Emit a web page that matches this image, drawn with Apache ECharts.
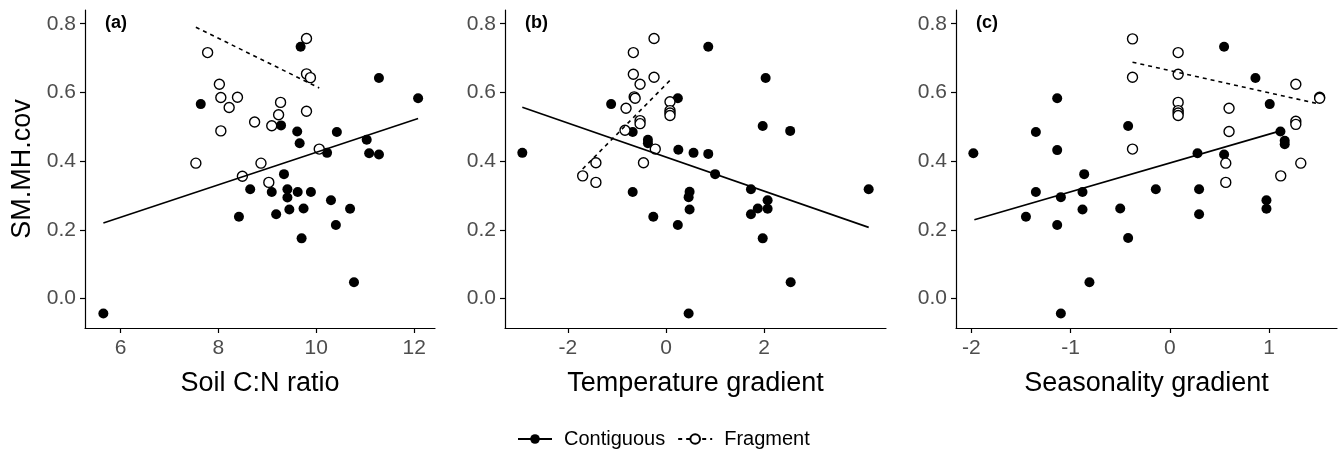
<!DOCTYPE html>
<html>
<head>
<meta charset="utf-8">
<script src="https://cdn.jsdelivr.net/npm/echarts@6/dist/echarts.min.js"></script>
<style>
html,body{margin:0;padding:0;background:#fff;}
#chart{width:1341px;height:456px;}
</style>
</head>
<body>
<div id="chart"></div>
<script>
// ---------- data ----------
const panelLabels = ['(a)', '(b)', '(c)'];
const xTitles = ['Soil C:N ratio', 'Temperature gradient', 'Seasonality gradient'];
const yTitle = 'SM.MH.cov';
const seriesNames = ['Contiguous', 'Fragment'];

const yTicks = [0.0, 0.2, 0.4, 0.6, 0.8];
const xTicksA = [6, 8, 10, 12];
const xTicksB = [-2, 0, 2];
const xTicksC = [-2, -1, 0, 1];

// Panel (a)
const aContX = [7.64, 9.68, 11.28, 12.08, 9.28, 9.61, 10.42, 9.66, 11.03, 10.22, 11.08, 11.28, 8.65, 8.42, 5.65, 9.34, 9.09, 9.41, 9.41, 9.62, 9.89, 10.30, 10.69, 9.18, 9.45, 9.74, 10.40, 9.70, 10.77];
const aContY = [0.566, 0.733, 0.642, 0.583, 0.504, 0.486, 0.485, 0.452, 0.462, 0.424, 0.423, 0.419, 0.318, 0.238, -0.044, 0.362, 0.310, 0.318, 0.294, 0.310, 0.310, 0.286, 0.261, 0.245, 0.259, 0.262, 0.214, 0.175, 0.047];
const aFragX = [7.78, 8.02, 8.05, 8.39, 8.22, 8.74, 8.05, 9.80, 9.80, 9.88, 9.27, 9.80, 9.23, 9.09, 10.06, 7.54, 8.49, 8.87, 9.03];
const aFragY = [0.716, 0.624, 0.585, 0.586, 0.556, 0.514, 0.488, 0.757, 0.654, 0.643, 0.571, 0.545, 0.535, 0.503, 0.435, 0.394, 0.356, 0.394, 0.338];
const aContLineX = [5.65, 12.08];
const aContLineY = [0.220, 0.524];
const aFragLineX = [7.54, 10.06];
const aFragLineY = [0.790, 0.613];

// Panel (b)
const bContX = [-1.12, 0.86, 2.03, 0.24, 1.97, 2.53, -0.68, -0.37, -0.37, 0.25, 0.56, -2.93, 0.86, -0.68, 0.48, 0.46, 0.48, -0.26, 0.24, 0.46, 1.00, 1.73, 2.07, 2.07, 1.87, 1.73, 1.97, 2.54, 4.13];
const bContY = [0.566, 0.733, 0.642, 0.583, 0.502, 0.488, 0.485, 0.462, 0.452, 0.433, 0.424, 0.424, 0.421, 0.310, 0.311, 0.295, 0.259, 0.238, 0.214, -0.044, 0.362, 0.318, 0.286, 0.261, 0.262, 0.245, 0.175, 0.047, 0.318];
const bFragX = [-0.245, -0.667, -0.667, -0.53, -0.245, -0.65, -0.63, -0.816, 0.08, 0.08, 0.08, 0.08, -0.53, -0.53, -0.837, -0.22, -1.43, -1.70, -1.43, -0.46];
const bFragY = [0.757, 0.716, 0.653, 0.624, 0.644, 0.587, 0.583, 0.554, 0.573, 0.547, 0.540, 0.533, 0.518, 0.509, 0.490, 0.435, 0.395, 0.357, 0.338, 0.395];
const bContLineX = [-2.93, 4.13];
const bContLineY = [0.557, 0.207];
const bFragLineX = [-1.70, 0.08];
const bFragLineY = [0.377, 0.635];

// Panel (c)
const cContX = [-1.135, -1.35, -0.42, -1.135, -1.98, 0.547, 0.863, 1.007, 1.115, 1.158, 1.158, 0.279, 0.547, -0.863, -1.35, -1.098, -0.88, -0.88, -0.50, -1.45, -1.135, -0.42, -0.81, -1.098, -0.141, 0.295, 0.295, 0.974, 0.974];
const cContY = [0.583, 0.485, 0.502, 0.432, 0.423, 0.733, 0.642, 0.566, 0.486, 0.459, 0.449, 0.423, 0.419, 0.362, 0.310, 0.295, 0.310, 0.259, 0.262, 0.238, 0.214, 0.176, 0.047, -0.044, 0.318, 0.318, 0.245, 0.286, 0.261];
const cFragX = [-0.376, -0.376, -0.376, 0.084, 0.084, 1.27, 1.51, 1.51, 0.084, 0.084, 0.084, 0.084, 0.597, 1.27, 1.27, 0.597, 0.564, 0.564, 1.118, 1.32];
const cFragY = [0.756, 0.644, 0.435, 0.716, 0.653, 0.624, 0.586, 0.583, 0.571, 0.547, 0.540, 0.533, 0.554, 0.516, 0.507, 0.486, 0.394, 0.338, 0.357, 0.394];
const cContLineX = [-1.97, 1.115];
const cContLineY = [0.229, 0.488];
const cFragLineX = [-0.376, 1.51];
const cFragLineY = [0.688, 0.566];

// ---------- build ----------
const zip = (xs, ys) => xs.map((x, i) => [x, ys[i]]);
const panels = [
  {contX: aContX, contY: aContY, fragX: aFragX, fragY: aFragY, clx: aContLineX, cly: aContLineY, flx: aFragLineX, fly: aFragLineY, ticks: xTicksA, min: 5.275, max: 12.425},
  {contX: bContX, contY: bContY, fragX: bFragX, fragY: bFragY, clx: bContLineX, cly: bContLineY, flx: bFragLineX, fly: bFragLineY, ticks: xTicksB, min: -3.283, max: 4.483},
  {contX: cContX, contY: cContY, fragX: cFragX, fragY: cFragY, clx: cContLineX, cly: cContLineY, flx: cFragLineX, fly: cFragLineY, ticks: xTicksC, min: -2.155, max: 1.685}
];
const gridPos = [
  {left: 85, width: 350},
  {left: 505, width: 381},
  {left: 956, width: 381}
];
const Y_MIN = -0.086, Y_MAX = 0.84;
const FONT = '"Liberation Sans", Arial, sans-serif';
const tickColor = '#4D4D4D';

const grids = [], xAxes = [], yAxes = [], series = [], graphics = [];
const filledStyle = {color: '#000', borderColor: '#000', borderWidth: 0, opacity: 1};
const openStyle = {color: '#fff', borderColor: '#000', borderWidth: 1.4, opacity: 1};

// line series first (legend icons use them)
panels.forEach((p, i) => {
  series.push({
    name: seriesNames[0], type: 'line', xAxisIndex: i, yAxisIndex: i, z: 5,
    data: zip(p.clx, p.cly), showSymbol: false, symbol: 'circle', symbolSize: 10,
    lineStyle: {color: '#000', width: 1.6, type: 'solid'},
    itemStyle: filledStyle, silent: true
  });
  series.push({
    name: seriesNames[1], type: 'line', xAxisIndex: i, yAxisIndex: i, z: 5,
    data: zip(p.flx, p.fly), showSymbol: false, symbol: 'circle', symbolSize: 10,
    lineStyle: {color: '#000', width: 1.6, type: [4, 4]},
    itemStyle: openStyle, silent: true
  });
});

panels.forEach((p, i) => {
  grids.push({left: gridPos[i].left, width: gridPos[i].width, top: 10, height: 318, containLabel: false});
  xAxes.push({
    type: 'value', gridIndex: i, min: p.min, max: p.max,
    splitLine: {show: false},
    axisLine: {show: true, onZero: false, lineStyle: {color: '#000', width: 1.2}},
    axisTick: {show: true, length: 5, lineStyle: {color: '#000', width: 1.2}, customValues: p.ticks},
    axisLabel: {color: tickColor, fontSize: 21, fontFamily: FONT, margin: 10, customValues: p.ticks,
      formatter: v => String(v)},
    name: xTitles[i], nameLocation: 'middle', nameGap: 42,
    nameTextStyle: {color: '#000', fontSize: 27, fontFamily: FONT}
  });
  yAxes.push({
    type: 'value', gridIndex: i, min: Y_MIN, max: Y_MAX,
    splitLine: {show: false},
    axisLine: {show: true, onZero: false, lineStyle: {color: '#000', width: 1.2}},
    axisTick: {show: true, length: 5, lineStyle: {color: '#000', width: 1.2}, customValues: yTicks},
    axisLabel: {color: tickColor, fontSize: 21, fontFamily: FONT, margin: 9, customValues: yTicks,
      formatter: v => v.toFixed(1)},
    name: i === 0 ? yTitle : '', nameLocation: 'middle', nameGap: 49,
    nameTextStyle: {color: '#000', fontSize: 27, fontFamily: FONT}
  });
  series.push({
    name: seriesNames[0], type: 'scatter', xAxisIndex: i, yAxisIndex: i, z: 3,
    data: zip(p.contX, p.contY), symbol: 'circle', symbolSize: 10,
    itemStyle: filledStyle, silent: true
  });
  series.push({
    name: seriesNames[1], type: 'scatter', xAxisIndex: i, yAxisIndex: i, z: 3,
    data: zip(p.fragX, p.fragY), symbol: 'circle', symbolSize: 10,
    itemStyle: openStyle, silent: true
  });
  graphics.push({
    type: 'text', left: gridPos[i].left + 20, top: 14,
    style: {text: panelLabels[i], fill: '#000', font: 'bold 18px ' + FONT}
  });
});

const chart = echarts.init(document.getElementById('chart'), null, {renderer: 'canvas'});
chart.setOption({
  animation: false,
  backgroundColor: '#fff',
  grid: grids, xAxis: xAxes, yAxis: yAxes, series: series,
  graphic: graphics,
  legend: {
    data: seriesNames, bottom: 2, left: 512,
    itemWidth: 34, itemHeight: 12, itemGap: 12,
    formatter: name => '{t|' + name + '}',
    textStyle: {color: '#000', fontSize: 20, fontFamily: FONT,
      rich: {t: {fontSize: 20, fontFamily: FONT, color: '#000', padding: [0, 0, 0, 7]}}},
    selectedMode: false
  }
});
</script>
</body>
</html>
